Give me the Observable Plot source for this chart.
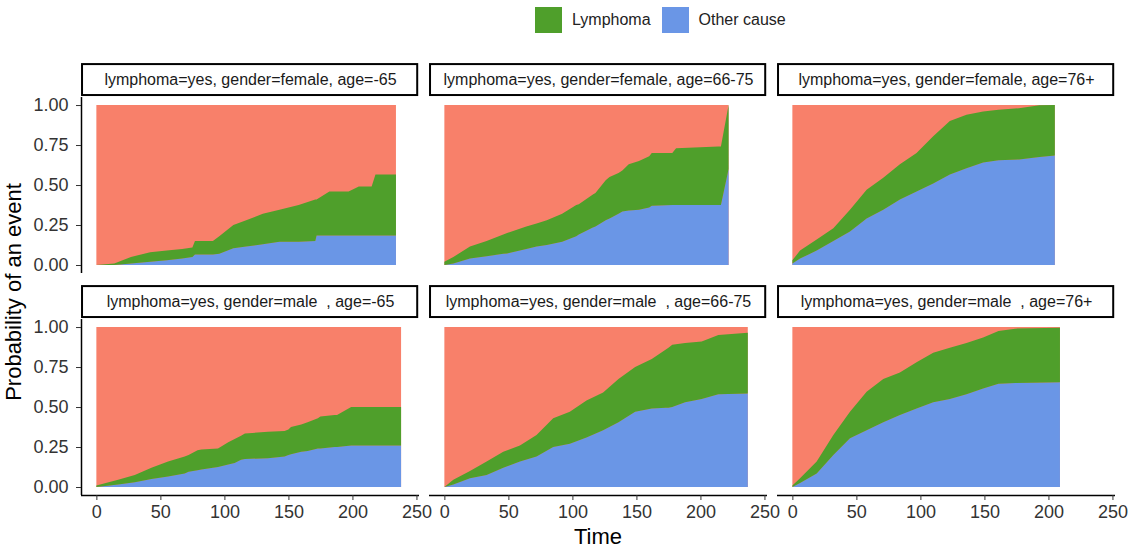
<!DOCTYPE html>
<html>
<head>
<meta charset="utf-8">
<script src="https://cdn.jsdelivr.net/npm/d3@7"></script>
<script src="https://cdn.jsdelivr.net/npm/@observablehq/plot@0.6"></script>
<style>
  body { margin: 0; background: #fff; font-family: "Liberation Sans", Arial, sans-serif; }
  #wrap { position: relative; width: 1130px; height: 550px; overflow: hidden; }
  #legend { position: absolute; left: 535px; top: 7px; height: 26px; display: flex; align-items: center; font-size: 16px; color: #222; }
  #legend .sw { width: 27px; height: 26px; display: inline-block; }
  #legend .lab { margin-left: 10px; margin-right: 11px; }
  #chart { position: absolute; left: 0; top: 48px; }
  svg text { white-space: pre; }
</style>
</head>
<body>
<div id="wrap">
  <div id="legend"></div>
  <div id="chart"></div>
</div>
<script>
// ---- categories ----
const ages = ["-65", "66-75", "76+"];
const genders = ["female", "male"];
const causes = ["Lymphoma", "Other cause"];
const causeColors = ["#4f9f2b", "#6a96e6"];
const stackOrder = ["Other cause", "Lymphoma"];
const xTicks = [0, 50, 100, 150, 200, 250];
const yTicks = [0, 0.25, 0.5, 0.75, 1];
const stripLabels = {
  "female|-65": "lymphoma=yes, gender=female, age=-65",
  "female|66-75": "lymphoma=yes, gender=female, age=66-75",
  "female|76+": "lymphoma=yes, gender=female, age=76+",
  "male|-65": "lymphoma=yes, gender=male  , age=-65",
  "male|66-75": "lymphoma=yes, gender=male  , age=66-75",
  "male|76+": "lymphoma=yes, gender=male  , age=76+"
};

// ---- series values ----
// female, age -65
const fA_time  = [0, 14, 27, 42, 55, 67, 75, 77, 91, 96, 107, 117, 130, 143, 158, 171, 172, 182, 197, 205, 215, 218, 234];
const fA_other = [0, 0, .01, .02, .03, .04, .05, .065, .065, .07, .105, .115, .13, .145, .145, .15, .185, .185, .185, .185, .185, .185, .185];
const fA_lymph = [0, .01, .04, .06, .06, .06, .06, .085, .085, .11, .145, .165, .19, .20, .23, .26, .225, .275, .275, .305, .305, .38, .38];
// female, age 66-75
const fB_time  = [0, 7, 20, 33, 46, 49, 64, 72, 80, 92, 103, 105, 116, 118, 126, 129, 136, 139, 144, 152, 160, 162, 178, 181, 214, 216, 222];
const fB_other = [0, .01, .04, .055, .07, .072, .10, .115, .125, .145, .18, .19, .235, .24, .28, .29, .32, .335, .34, .345, .36, .37, .375, .375, .375, .375, .60];
const fB_lymph = [.02, .04, .075, .095, .12, .128, .14, .145, .155, .175, .195, .19, .205, .21, .25, .26, .255, .255, .29, .305, .32, .33, .325, .355, .365, .365, .40];
// female, age 76+
const fC_time  = [0, 6, 19, 32, 45, 58, 71, 84, 97, 110, 123, 136, 149, 161, 177, 193, 205];
const fC_other = [.01, .04, .09, .15, .21, .29, .345, .41, .46, .51, .565, .605, .64, .655, .66, .675, .685];
const fC_lymph = [.02, .05, .07, .08, .135, .18, .20, .22, .24, .295, .335, .335, .32, .315, .32, .323, .315];
// male, age -65
const mA_time  = [0, 17, 30, 43, 56, 69, 72, 79, 82, 95, 103, 108, 113, 116, 134, 147, 150, 152, 160, 165, 173, 175, 186, 188, 199, 238];
const mA_other = [0, .015, .03, .05, .065, .085, .095, .105, .11, .125, .14, .15, .17, .175, .18, .19, .20, .205, .22, .225, .24, .24, .25, .25, .26, .26];
const mA_lymph = [.01, .03, .045, .07, .095, .105, .105, .125, .125, .115, .14, .15, .15, .16, .165, .16, .16, .17, .17, .18, .19, .20, .20, .20, .24, .24];
// male, age 66-75
const mB_time  = [0, 7, 20, 33, 46, 59, 72, 85, 98, 111, 124, 136, 149, 162, 173, 175, 178, 188, 201, 214, 237];
const mB_other = [0, .015, .055, .075, .12, .16, .19, .25, .27, .31, .355, .405, .47, .49, .495, .495, .50, .53, .55, .58, .585];
const mB_lymph = [0, .03, .045, .085, .10, .10, .135, .18, .20, .23, .235, .27, .28, .31, .365, .375, .39, .37, .36, .37, .38];
// male, age 76+
const mC_time  = [0, 6, 19, 32, 45, 58, 71, 84, 97, 110, 123, 136, 149, 161, 174, 209];
const mC_other = [0, .025, .085, .20, .305, .355, .405, .45, .49, .53, .55, .58, .615, .645, .65, .655];
const mC_lymph = [.01, .03, .075, .125, .165, .24, .27, .265, .29, .31, .32, .32, .32, .33, .34, .34];

// ---- tables built from the arrays ----
const panels = [
  {gender: "female", age: "-65",   time: fA_time, other: fA_other, lymph: fA_lymph},
  {gender: "female", age: "66-75", time: fB_time, other: fB_other, lymph: fB_lymph},
  {gender: "female", age: "76+",   time: fC_time, other: fC_other, lymph: fC_lymph},
  {gender: "male",   age: "-65",   time: mA_time, other: mA_other, lymph: mA_lymph},
  {gender: "male",   age: "66-75", time: mB_time, other: mB_other, lymph: mB_lymph},
  {gender: "male",   age: "76+",   time: mC_time, other: mC_other, lymph: mC_lymph}
];
const base = [];
const long = [];
for (const p of panels) {
  p.time.forEach((t, i) => {
    base.push({gender: p.gender, age: p.age, time: t});
    long.push({gender: p.gender, age: p.age, time: t, cause: "Other cause", value: p.other[i]});
    long.push({gender: p.gender, age: p.age, time: t, cause: "Lymphoma", value: p.lymph[i]});
  });
}
const strips = panels.map(p => ({gender: p.gender, age: p.age, label: stripLabels[p.gender + "|" + p.age]}));
const leftCol = strips.filter(s => s.age === ages[0]);
const bottomRow = strips.filter(s => s.gender === genders[genders.length - 1]);

// ---- legend ----
const legend = document.getElementById("legend");
causes.forEach((c, i) => {
  const sw = document.createElement("span");
  sw.className = "sw"; sw.style.background = causeColors[i];
  const lab = document.createElement("span");
  lab.className = "lab"; lab.textContent = c;
  legend.appendChild(sw); legend.appendChild(lab);
});

// ---- chart ----
const font = "Liberation Sans, Arial, sans-serif";
const svg = Plot.plot({
  width: 1130,
  height: 502,
  marginLeft: 80,
  marginRight: 14,
  marginTop: 14,
  marginBottom: 55,
  style: {fontFamily: font, background: "white", overflow: "visible"},
  fx: {domain: ages, paddingInner: 10 / 350, paddingOuter: 0, axis: null},
  fy: {domain: genders, paddingInner: 11 / 222, paddingOuter: 0, axis: null},
  x: {domain: [-12, 252], label: null},
  y: {domain: [-0.05, 1.269], label: null},
  color: {domain: causes, range: causeColors},
  marks: [
    Plot.areaY(base, {x: "time", y1: 0, y2: 1, fx: "age", fy: "gender", z: null, fill: "#f8806a"}),
    Plot.areaY(long, {x: "time", y: "value", z: "cause", fill: "cause", fx: "age", fy: "gender", order: stackOrder}),
    Plot.rect(strips, {x1: -11.2, x2: 250.6, y1: 1.0625, y2: 1.256, fx: "age", fy: "gender", fill: "white", stroke: "black", strokeWidth: 2}),
    Plot.text(strips, {x: 120, y: 1.159, text: "label", fx: "age", fy: "gender", fontSize: 16, fill: "#1a1a1a", textAnchor: "middle"}),
    Plot.ruleX(leftCol, {x: -12, y1: -0.05, y2: 1.05, fx: "age", fy: "gender", stroke: "black", strokeWidth: 1.5}),
    Plot.ruleY(bottomRow, {y: -0.05, fx: "age", fy: "gender", stroke: "black", strokeWidth: 1.5}),
    Plot.axisY({ticks: yTicks, tickFormat: d3.format(".2f"), tickSize: 5, tickPadding: 8, fontSize: 18, color: "#333", label: null}),
    Plot.axisX({ticks: xTicks, tickSize: 5, tickPadding: 5, fontSize: 18, color: "#333", label: null})
  ]
});
document.getElementById("chart").appendChild(svg);

const s = d3.select(svg);
s.append("text")
  .attr("transform", "translate(15,244) rotate(-90)")
  .attr("text-anchor", "middle").attr("dominant-baseline", "middle")
  .attr("font-size", 22).attr("fill", "black").attr("font-family", font)
  .text("Probability of an event");
s.append("text")
  .attr("x", 598).attr("y", 490)
  .attr("text-anchor", "middle").attr("dominant-baseline", "middle")
  .attr("font-size", 22).attr("fill", "black").attr("font-family", font)
  .text("Time");
</script>
</body>
</html>
